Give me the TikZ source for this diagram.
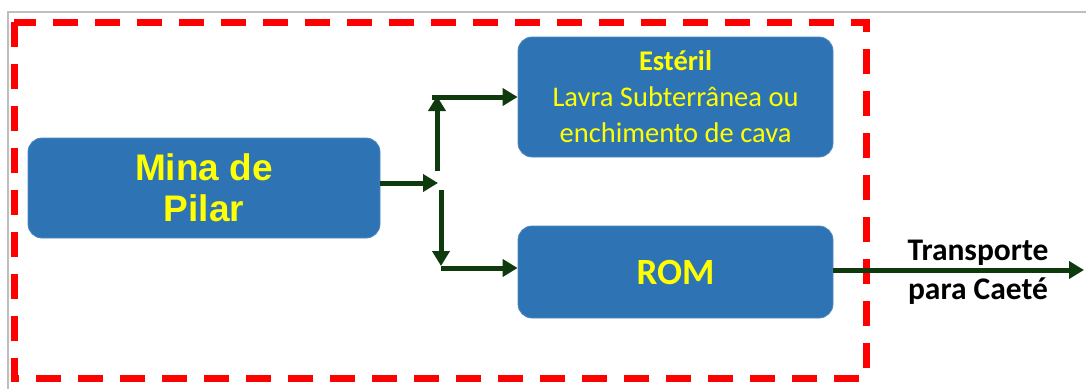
\documentclass[tikz,border=0pt]{standalone}
\usepackage{fontspec}
\setmainfont{Carlito}
\newfontfamily\arialb{Liberation Sans}
\usetikzlibrary{arrows.meta}
\definecolor{boxblue}{HTML}{2E74B5}
\definecolor{txtyellow}{HTML}{FFFF00}
\definecolor{arrgreen}{HTML}{0E3A0E}
\definecolor{dashred}{HTML}{FF0000}
\tikzset{
  bluebox/.style={draw=boxblue!85!white, line width=0.8pt, fill=boxblue, rounded corners=14pt, inner sep=0pt, text=txtyellow, align=center},
  flow/.style={draw=arrgreen, line width=5pt, -{Triangle[length=15pt,width=17pt]}},
}
\begin{document}
\begin{tikzpicture}[x=1pt,y=-1pt]
\useasboundingbox[fill=white] (0,0) rectangle (1086,388);
% faint screenshot frame
\draw[black!25, line width=1.5pt] (8,400) -- (8,12) -- (1095,12);
% dashed boundary
\draw[dashred, line width=7pt, dash pattern=on 25pt off 17pt] (14,22) rectangle (866,378);
% boxes
\node[bluebox, minimum width=352pt, minimum height=100pt, font=\arialb\bfseries\fontsize{37}{41}\selectfont] (mina) at (204,188) {Mina de\\Pilar};
\node[bluebox, minimum width=315pt, minimum height=120pt, font=\fontsize{28.5}{36}\selectfont] (est) at (675.5,97) {\textbf{Estéril}\\Lavra Subterrânea ou\\enchimento de cava};
\node[bluebox, minimum width=315pt, minimum height=92pt, font=\bfseries\fontsize{37}{40}\selectfont] (rom) at (675.5,272) {ROM};
% junction points
\coordinate (ja) at (438,183);
\coordinate (upS) at (437,171);
\coordinate (upT) at (437,96);
\coordinate (upH) at (432,97);
\coordinate (dnS) at (441,190);
\coordinate (dnT) at (441,266);
\coordinate (dnH) at (441,268);
\coordinate (out) at (1084,270);
% connectors
\draw[flow] (mina.east |- ja) -- (ja);
\draw[flow] (upS) -- (upT);
\draw[flow] (upH) -- (upH -| est.west);
\draw[flow] (dnS) -- (dnT);
\draw[flow] (dnH) -- (dnH -| rom.west);
\draw[flow] (rom.east |- out) -- (out);
% label
\node[font=\bfseries\fontsize{31.5}{39}\selectfont, align=center, text=black] (lbl) at (978,272) {Transporte\\para Caeté};
\end{tikzpicture}
\end{document}
